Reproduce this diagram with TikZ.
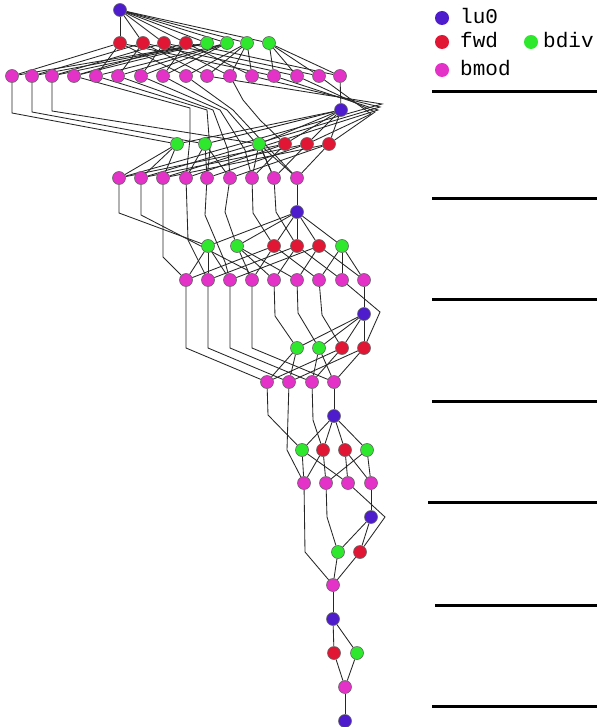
\documentclass[tikz,border=0pt]{standalone}
\usepackage{fontspec}
\newfontfamily\legfont{Liberation Mono}
\usetikzlibrary{backgrounds}
\definecolor{cLu}{RGB}{78,28,205}
\definecolor{cFw}{RGB}{225,22,52}
\definecolor{cBd}{RGB}{45,232,45}
\definecolor{cBm}{RGB}{228,50,200}
\tikzset{
  tnode/.style={circle, minimum size=13pt, inner sep=0pt, draw=black!60, line width=0.6pt},
  lu/.style={tnode, fill=cLu},
  fw/.style={tnode, fill=cFw},
  bd/.style={tnode, fill=cBd},
  bm/.style={tnode, fill=cBm},
  lnode/.style={circle, minimum size=14pt, inner sep=0pt},
  ltext/.style={anchor=base west, inner sep=0pt, font=\legfont\fontsize{21}{24}\selectfont},
  edge/.style={draw=black!85, line width=0.85pt},
  sepline/.style={line width=3pt, black}
}
\begin{document}
\begin{tikzpicture}[x=1pt,y=-1pt]
\useasboundingbox (0,0) rectangle (597,727);
% ---------- level 1
\node[lu] (a1) at (120,10) {};
\node[fw] (f11) at (120,43) {};
\node[fw] (f12) at (143,43) {};
\node[fw] (f13) at (164,43) {};
\node[fw] (f14) at (186,43) {};
\node[bd] (d11) at (207,43) {};
\node[bd] (d12) at (227,43) {};
\node[bd] (d13) at (247,43) {};
\node[bd] (d14) at (269,43) {};
\foreach \x [count=\k] in {12,32,52,74,96,118,141,163,186,207,230,252,274,297,319,340}
  \node[bm] (m\k) at (\x,76) {};
% ---------- level 2
\node[lu] (a2) at (341,110) {};
\node[bd] (d21) at (177,144) {};
\node[bd] (d22) at (205,144) {};
\node[bd] (d23) at (259,144) {};
\node[fw] (f21) at (285,144) {};
\node[fw] (f22) at (307,144) {};
\node[fw] (f23) at (329,144) {};
\foreach \x [count=\k] in {119,141,163,186,207,230,252,274,297}
  \node[bm] (e\k) at (\x,178) {};
% ---------- level 3
\node[lu] (a3) at (297,212) {};
\node[bd] (g1) at (208,246) {};
\node[bd] (g2) at (237,246) {};
\node[fw] (r1) at (274,246) {};
\node[fw] (r2) at (297,246) {};
\node[fw] (r3) at (319,246) {};
\node[bd] (g3) at (342,246) {};
\foreach \x [count=\k] in {186,208,230,252,274,297,319,342,364}
  \node[bm] (h\k) at (\x,280) {};
% ---------- level 4
\node[lu] (a4) at (364,314) {};
\node[bd] (k1) at (297,348) {};
\node[bd] (k2) at (319,348) {};
\node[fw] (k3) at (342,348) {};
\node[fw] (k4) at (364,348) {};
\foreach \x [count=\k] in {267,289,312,334}
  \node[bm] (i\k) at (\x,382) {};
% ---------- level 5
\node[lu] (a5) at (334,416) {};
\node[bd] (j1) at (302,450) {};
\node[fw] (j2) at (323,450) {};
\node[fw] (j3) at (345,450) {};
\node[bd] (j4) at (367,450) {};
\foreach \x [count=\k] in {304,326,348,371}
  \node[bm] (n\k) at (\x,483) {};
% ---------- level 6..8
\node[lu] (a6) at (371,517) {};
\node[bd] (l1) at (338,552) {};
\node[fw] (l2) at (360,552) {};
\node[bm] (p1) at (333,585) {};
\node[lu] (a7) at (333,619) {};
\node[fw] (q1) at (334,653) {};
\node[bd] (q2) at (357,653) {};
\node[bm] (p2) at (345,687) {};
\node[lu] (a8) at (345,721) {};

\begin{pgfonlayer}{background}
\fill[white] (0,0) rectangle (597,727);
% level 1
\foreach \t in {f11,f12,f13,f14,d11,d12,d13,d14} \draw[edge] (a1) -- (\t);
\foreach \i in {1,...,4} { \foreach \j in {1,...,4} {
  \pgfmathtruncatemacro\n{4*(\i-1)+\j}
  \draw[edge] (d1\i) -- (m\n);
  \draw[edge] (f1\j) -- (m\n);
}}
% level 1 -> 2
\draw[edge] (m16) -- (a2);
\draw[edge] (m1) -- (12,113) -- (d21);
\draw[edge] (m2) -- (32,112) -- (d22);
\draw[edge] (m3) -- (52,111) -- (d23);
\draw[edge] (m4) -- (190,108) -- (190,138) -- (e4);
\draw[edge] (m5) -- (207,110) -- (210,150) -- (e5);
\draw[edge] (m6) -- (213,110) -- (228,150) -- (e6);
\draw[edge] (m7) -- (220,110) -- (245,150) -- (e7);
\draw[edge] (m8) -- (227,110) -- (262,150) -- (e8);
\draw[edge] (m9) -- (233,110) -- (275,155) -- (e9);
\draw[edge] (m11) -- (243,100) -- (260,120) -- (f21);
\draw[edge] (m10) -- (382,104) -- (e1);
\draw[edge] (m12) -- (380,107) -- (e2);
\draw[edge] (m13) -- (378,110) -- (e3);
\draw[edge] (m14) -- (375,112) -- (f23);
\draw[edge] (m15) -- (371,114) -- (f22);
% level 2
\foreach \t in {d21,d22,d23,f21,f22,f23} \draw[edge] (a2) -- (\t);
\foreach \i in {1,2,3} { \foreach \j in {1,2,3} {
  \pgfmathtruncatemacro\n{3*(\i-1)+\j}
  \draw[edge] (d2\i) -- (e\n);
  \draw[edge] (f2\j) -- (e\n);
}}
% level 2 -> 3
\draw[edge] (e9) -- (a3);
\draw[edge] (e1) -- (119,213) -- (g1);
\draw[edge] (e2) -- (141,215) -- (247,270) -- (h4);
\draw[edge] (e3) -- (163,257) -- (h1);
\draw[edge] (e4) -- (188,240) -- (h2);
\draw[edge] (e5) -- (205,215) -- (225,262) -- (h3);
\draw[edge] (e6) -- (225,212) -- (g2);
\draw[edge] (e7) -- (253,213) -- (r1);
\draw[edge] (e8) -- (276,212) -- (r2);
% level 3
\foreach \t in {g1,g2,r1,r2,r3,g3} \draw[edge] (a3) -- (\t);
\foreach \i in {1,2,3} { \foreach \j in {1,2,3} {
  \pgfmathtruncatemacro\n{3*(\i-1)+\j}
  \draw[edge] (g\i) -- (h\n);
  \draw[edge] (r\j) -- (h\n);
}}
% level 3 -> 4
\draw[edge] (h9) -- (a4);
\draw[edge] (h1) -- (186,348) -- (i1);
\draw[edge] (h2) -- (208,348) -- (i2);
\draw[edge] (h3) -- (230,348) -- (i3);
\draw[edge] (h4) -- (252,348) -- (i4);
\draw[edge] (h5) -- (275,316) -- (k1);
\draw[edge] (h6) -- (298,313) -- (k2);
\draw[edge] (h7) -- (322,315) -- (k3);
\draw[edge] (h8) -- (380,312) -- (k4);
% level 4
\foreach \t in {k1,k2,k3,k4} \draw[edge] (a4) -- (\t);
\draw[edge] (k1) -- (i1); \draw[edge] (k3) -- (i1);
\draw[edge] (k1) -- (i2); \draw[edge] (k4) -- (i2);
\draw[edge] (k2) -- (i3); \draw[edge] (k3) -- (i3);
\draw[edge] (k2) -- (i4); \draw[edge] (k4) -- (i4);
% level 4 -> 5
\draw[edge] (i4) -- (a5);
\draw[edge] (i1) -- (268,415) -- (j1);
\draw[edge] (i2) -- (287,450) -- (n1);
\draw[edge] (i3) -- (313,420) -- (j2);
% level 5
\foreach \t in {j1,j2,j3,j4} \draw[edge] (a5) -- (\t);
\draw[edge] (j1) -- (n1); \draw[edge] (j2) -- (n1);
\draw[edge] (j1) -- (n3); \draw[edge] (j3) -- (n3);
\draw[edge] (j4) -- (n2); \draw[edge] (j2) -- (n2);
\draw[edge] (j4) -- (n4); \draw[edge] (j3) -- (n4);
% level 5 -> 6
\draw[edge] (n4) -- (a6);
\draw[edge] (n3) -- (385,517) -- (l2);
\draw[edge] (n2) -- (327,517) -- (l1);
\draw[edge] (n1) -- (305,552) -- (p1);
\draw[edge] (a6) -- (l1); \draw[edge] (a6) -- (l2);
\draw[edge] (l1) -- (p1); \draw[edge] (l2) -- (p1);
\draw[edge] (p1) -- (a7);
\draw[edge] (a7) -- (q1); \draw[edge] (a7) -- (q2);
\draw[edge] (q1) -- (p2); \draw[edge] (q2) -- (p2);
\draw[edge] (p2) -- (a8);
\end{pgfonlayer}

% ---------- legend
\node[lnode, fill=cLu] (kLu) at (442,18) {};
\node[ltext] (tLu) at (460,24) {lu0};
\node[lnode, fill=cFw] (kFw) at (442,42) {};
\node[ltext] (tFw) at (460,48) {fwd};
\node[lnode, fill=cBd] (kBd) at (531,42) {};
\node[ltext] (tBd) at (543,48) {bdiv};
\node[lnode, fill=cBm] (kBm) at (442,70) {};
\node[ltext] (tBm) at (460,76) {bmod};
% ---------- separators
\draw[sepline] (432,92) -- (597,92);
\draw[sepline] (432,199) -- (597,199);
\draw[sepline] (432,299) -- (597,299);
\draw[sepline] (432,401) -- (597,401);
\draw[sepline] (428,502) -- (597,502);
\draw[sepline] (435,605) -- (597,605);
\draw[sepline] (432,706) -- (597,706);
\end{tikzpicture}
\end{document}
